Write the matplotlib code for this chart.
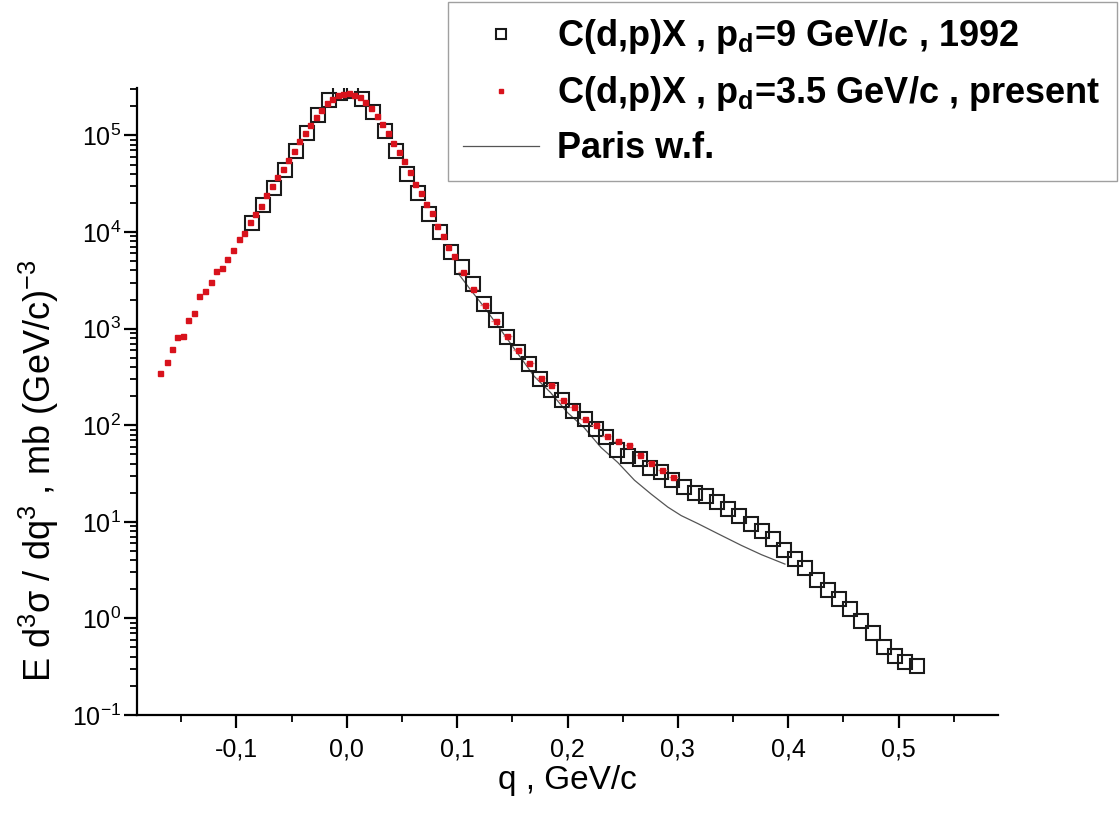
import math
import matplotlib
matplotlib.use("Agg")
import matplotlib.pyplot as plt
from matplotlib.ticker import FixedLocator, FuncFormatter, MultipleLocator, NullFormatter

# C(d,p)X, p_d = 3.5 GeV/c (present)
q_new = [-0.1688, -0.163, -0.1585, -0.1537, -0.148, -0.1434, -0.138, -0.1334,
         -0.1285, -0.1234, -0.1182, -0.1131, -0.1082, -0.1034, -0.098, -0.0931,
         -0.088, -0.083, -0.078, -0.073, -0.068, -0.063, -0.058, -0.053,
         -0.048, -0.043, -0.038, -0.033, -0.028, -0.023, -0.018, -0.013,
         -0.008, -0.003, 0.002, 0.007, 0.012, 0.017, 0.022, 0.027,
         0.032, 0.037, 0.042, 0.047, 0.052, 0.057, 0.062, 0.067,
         0.072, 0.077, 0.082, 0.087, 0.092, 0.097,
         0.105, 0.1145, 0.125, 0.135, 0.1455, 0.155, 0.1655, 0.1757,
         0.1855, 0.1955, 0.2055, 0.2157, 0.2255, 0.2355, 0.2457, 0.2557,
         0.2657, 0.2757, 0.2857, 0.296]
y_new = [350, 450, 617, 821, 847, 1230, 1462, 2153,
         2445, 3076, 3993, 4290, 5230, 6480, 8530, 9770,
         12600, 15300, 18700, 24000, 29800, 37500, 44600, 55200,
         69500, 86700, 106000, 129000, 155000, 184000, 215000, 239000,
         263000, 270000, 276000, 265000, 248000, 224000, 193000, 160000,
         132000, 106000, 84000, 68000, 54000, 41700, 31800, 25400,
         19300, 15700, 11500, 9160, 7060, 5660,
         3900, 2585, 1767, 1190, 847, 608, 443, 305,
         258, 182, 153, 116, 101, 77, 68.9, 62.2,
         48.7, 40.3, 34.4, 29.3]

# C(d,p)X, p_d = 9 GeV/c (1992)
q_old = [-0.0861, -0.076, -0.066, -0.0558, -0.0464, -0.036, -0.0258, -0.0158,
         -0.006, 0.0042, 0.0142, 0.0242, 0.0345, 0.0445, 0.0545, 0.0642,
         0.0742, 0.0845, 0.0945, 0.1048, 0.1145, 0.1248, 0.1348, 0.1448,
         0.155, 0.1651, 0.1751, 0.1848, 0.1951, 0.2051, 0.2155, 0.2255,
         0.2351, 0.2448, 0.2551, 0.2655, 0.2751, 0.2851, 0.2951, 0.3055,
         0.3157, 0.3255, 0.3355, 0.3455, 0.3555, 0.366, 0.376, 0.386,
         0.396, 0.406, 0.4155, 0.4264, 0.4364, 0.446, 0.456, 0.466,
         0.4764, 0.4864, 0.4964, 0.5057, 0.5164]
y_old = [12400, 19000, 28400, 44300, 68900, 106000, 164000, 233000,
         276000, 286000, 237000, 177000, 112000, 68900, 39600, 25200,
         15500, 9930, 6200, 4360, 2890, 1810, 1220, 815,
         571, 426, 303, 231, 182, 141, 116, 92.5,
         74.7, 55, 47.6, 44.6, 35.7, 32.5, 27.1, 22.8,
         19.9, 18.7, 16.0, 13.6, 11.6, 9.53, 7.95, 6.58,
         5.06, 4.08, 3.33, 2.48, 1.96, 1.57, 1.24, 0.938,
         0.70, 0.51, 0.41, 0.358, 0.318]

# Paris wave function
q_paris = [0.102, 0.111, 0.124, 0.1394, 0.1545, 0.1697, 0.1848, 0.2, 0.215,
           0.2303, 0.2455, 0.2606, 0.2757, 0.2909, 0.303, 0.318, 0.3364,
           0.3575, 0.3757, 0.397]
y_paris = [3600, 2630, 1700, 977, 561, 322, 217, 135, 94.6,
           58.9, 41.2, 27.0, 19.4, 14.2, 11.6, 9.6, 7.52,
           5.7, 4.57, 3.65]

y_ticks = [0.1, 1, 10, 100, 1000, 1e4, 1e5]

plt.rcParams['font.family'] = ['Liberation Sans', 'DejaVu Sans']
plt.rcParams['mathtext.fontset'] = 'custom'
plt.rcParams['mathtext.rm'] = 'Liberation Sans'
plt.rcParams['mathtext.it'] = 'Liberation Sans'
plt.rcParams['mathtext.bf'] = 'Liberation Sans:bold'

fig = plt.figure(figsize=(11.19, 8.17), dpi=100)
ax = fig.add_axes([137 / 1119, 1 - 715 / 817, (998 - 137) / 1119, (715 - 88) / 817])

red = '#d8121c'
ax.plot(q_paris, y_paris, color='#555555', lw=0.9, label='Paris w.f.', zorder=2)
ax.plot(q_old, y_old, ls='none', marker='s', ms=9.5, mfc='none', mec='#1a1a1a',
        mew=1.5, label=r'C(d,p)X , p$_\mathbf{d}$=9 GeV/c , 1992', zorder=3)

# small horizontal bars on the present data beyond q = 0.1
err_q = [q for q in q_new if q > 0.1]
err_y = [y for q, y in zip(q_new, y_new) if q > 0.1]
ax.errorbar(err_q, err_y, xerr=0.004, fmt='none', ecolor='#f08080', elinewidth=1,
            capsize=0, zorder=3.5)
ax.plot(q_new, y_new, ls='none', marker='s', ms=3.6, color=red, mec=red,
        label=r'C(d,p)X , p$_\mathbf{d}$=3.5 GeV/c , present', zorder=4)

ax.set_yscale('log')
ax.set_xlim(-0.19, 0.59)
ax.set_ylim(0.1, 3.1e5)

ax.xaxis.set_major_locator(MultipleLocator(0.1))
ax.xaxis.set_minor_locator(MultipleLocator(0.05))
ax.xaxis.set_major_formatter(FuncFormatter(lambda v, p: f"{v:.1f}".replace('.', ',').replace('-0,0', '0,0')))
minor_y = [m * t for t in y_ticks for m in range(2, 10) if m * t < 3.1e5]
ax.yaxis.set_major_locator(FixedLocator(y_ticks))
ax.yaxis.set_minor_locator(FixedLocator(minor_y))
ax.yaxis.set_minor_formatter(NullFormatter())
ax.yaxis.set_major_formatter(FuncFormatter(lambda v, p: r"10$^{\mathregular{%d}}$" % round(math.log10(v))))

for s in ['top', 'right']:
    ax.spines[s].set_visible(False)
for s in ['left', 'bottom']:
    ax.spines[s].set_linewidth(1.6)
ax.tick_params(which='major', direction='out', length=9.5, width=1.6, colors='black')
ax.tick_params(which='minor', direction='out', length=5, width=1.3)
ax.tick_params(axis='x', which='major', labelsize=18, pad=7)
ax.tick_params(axis='y', which='major', labelsize=18, pad=2)

ax.set_xlabel('q , GeV/c', fontsize=24)
ax.xaxis.set_label_coords(0.5, -0.08)
ax.set_ylabel(r'E d$^3\sigma$ / dq$^3$ , mb (GeV/c)$^{-3}$', fontsize=26)
ax.yaxis.set_label_coords(-0.088, 0.39)

handles, labels = ax.get_legend_handles_labels()
order = [1, 2, 0]
leg = ax.legend([handles[i] for i in order], [labels[i] for i in order],
                loc='upper left', mode='expand',
                bbox_to_anchor=(448 / 1119, 1 - 2 / 817, 669 / 1119, 0.0),
                bbox_transform=fig.transFigure, frameon=True, fancybox=False,
                edgecolor='#888888', prop={'weight': 'bold', 'size': 26},
                markerscale=0.7, handlelength=2.1, handletextpad=0.5,
                labelspacing=0.5, borderaxespad=0, borderpad=0.42)
leg.get_frame().set_linewidth(1.0)

fig.savefig('out.png', dpi=100)
